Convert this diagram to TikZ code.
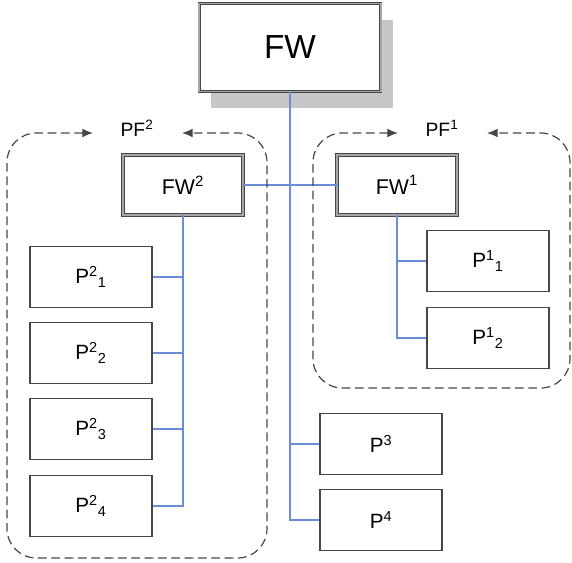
\documentclass[tikz,border=0pt]{standalone}
\usepackage{fontspec}
\setmainfont{Liberation Sans}
\usetikzlibrary{arrows.meta,shadows}

\definecolor{linkblue}{RGB}{105,142,215}
\definecolor{boxline}{RGB}{70,70,70}

\tikzset{
  pbox/.style={draw=boxline, line width=0.8pt, fill=white, minimum width=91.5pt, minimum height=45.5pt, inner sep=0pt, font=\fontsize{15.5}{17}\selectfont},
  fwbox/.style={draw=boxline, line width=0.6pt, double=black!35, double distance=1.3pt, fill=white, minimum width=90pt, minimum height=45pt, inner sep=0pt, font=\fontsize{16}{18}\selectfont},
  link/.style={draw=linkblue, line width=0.8pt},
  group/.style={draw=boxline, line width=0.9pt, dash pattern=on 6.5pt off 3.5pt, rounded corners=22pt, {Latex[length=8pt,width=6.5pt]}-{Latex[length=8pt,width=6.5pt]}},
  pflabel/.style={inner sep=1pt, font=\fontsize{14.5}{16}\selectfont},
}

\begin{document}
\begin{tikzpicture}[x=0.75pt,y=0.75pt,yscale=-1]
\useasboundingbox (0,0) rectangle (572,562);

% top framework
\node[fwbox, minimum width=136pt, minimum height=66pt, font=\fontsize{25}{29}\selectfont,
      drop shadow={shadow xshift=9pt, shadow yshift=-12pt, fill=black!22, opacity=1}] (FW) at (290,47.5) {FW};

% sub frameworks
\node[fwbox] (FW2) at (183,185) {FW\textsuperscript{2}};
\node[fwbox] (FW1) at (397,185) {FW\textsuperscript{1}};

% plugins of FW2
\node[pbox] (P2-1) at (91,277) {P\textsuperscript{2}\textsubscript{1}};
\node[pbox] (P2-2) at (91,353) {P\textsuperscript{2}\textsubscript{2}};
\node[pbox] (P2-3) at (91,429) {P\textsuperscript{2}\textsubscript{3}};
\node[pbox] (P2-4) at (91,506) {P\textsuperscript{2}\textsubscript{4}};

% plugins of FW1
\node[pbox] (P1-1) at (488,261) {P\textsuperscript{1}\textsubscript{1}};
\node[pbox] (P1-2) at (488,338) {P\textsuperscript{1}\textsubscript{2}};

% plugins of FW
\node[pbox] (P3) at (381,444) {P\textsuperscript{3}};
\node[pbox] (P4) at (381,520) {P\textsuperscript{4}};

% links
\draw[link] (FW.south) |- (P3.west);
\draw[link] (FW.south) |- (P4.west);
\draw[link] (FW2.east) -- (FW1.west);
\foreach \i in {1,...,4}
  \draw[link] (FW2.south) |- (P2-\i.east);
\foreach \i in {1,2}
  \draw[link] (FW1.south) |- (P1-\i.west);

% plugin frameworks
\draw[group] (93,133) -- (7,133) -- (7,558) -- (267,558) -- (267,133) -- (182,133);
\draw[group] (398,133) -- (313,133) -- (313,388) -- (570,388) -- (570,133) -- (487,133);
\node[pflabel] (PF2) at (137,128) {PF\textsuperscript{2}};
\node[pflabel] (PF1) at (442,128) {PF\textsuperscript{1}};

\end{tikzpicture}
\end{document}
